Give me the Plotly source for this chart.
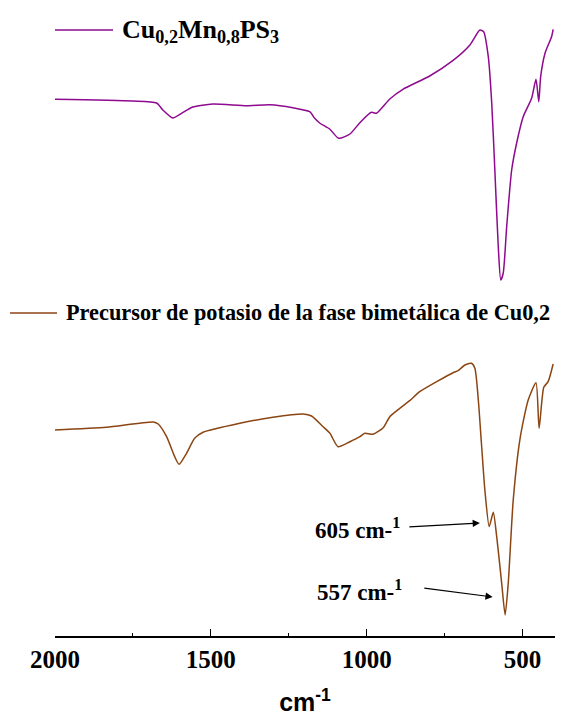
import plotly.graph_objects as go

# Wavenumbers (cm-1) and signal (a.u., offset)
wn_top = [2000, 1751, 1674, 1654, 1622, 1594, 1558, 1494, 1385, 1311, 1237, 1183, 1167, 1151,
          1119, 1090, 1054, 1022, 985, 969, 926, 884, 798, 724, 669, 637, 625, 610, 599, 589,
          578, 570, 562, 551, 535, 519, 498, 471, 457, 448, 442, 428, 407, 402]
t_top = [53.67, 53.5, 53.3, 52.6, 51.8, 52.27, 52.9, 53.2, 53.03, 53.13, 52.83, 52.43, 51.77, 51.3,
         50.7, 49.77, 50.2, 51.33, 52.37, 52.27, 53.7, 54.67, 56.0, 57.53, 59.1, 60.6, 60.43, 57.93,
         53.3, 46.6, 38.93, 35.6, 36.3, 40.93, 46.6, 49.3, 51.93, 53.77, 55.67, 53.43, 55.93, 58.27,
         59.93, 60.67]

wn_bot = [2000, 1835, 1685, 1669, 1642, 1616, 1602, 1578, 1552, 1525, 1407, 1301, 1204, 1177,
          1140, 1118, 1092, 1054, 1022, 1006, 980, 947, 926, 894, 862, 830, 723, 707, 685, 664,
          653, 642, 632, 621, 607, 594, 583, 567, 556, 546, 530, 508, 482, 457, 447, 432, 418, 402]
t_bot = [20.6, 20.87, 21.4, 21.2, 19.93, 17.93, 17.17, 18.27, 19.77, 20.37, 21.27, 21.87, 22.2, 22.0,
         20.93, 20.27, 18.93, 19.43, 19.93, 20.27, 20.17, 20.83, 21.93, 22.77, 23.53, 24.43, 26.33,
         26.53, 27.1, 27.27, 26.77, 23.6, 19.27, 14.6, 10.93, 12.37, 9.93, 5.27, 2.1, 5.27, 13.6,
         19.77, 23.6, 25.33, 20.77, 24.87, 25.43, 27.2]

name_top = "Cu<sub>0,2</sub>Mn<sub>0,8</sub>PS<sub>3</sub>"
name_bot = "Precursor de potasio de la fase bimetálica de Cu0,2"
tick_vals = [2000, 1500, 1000, 500]
tick_text = ["2000", "1500", "1000", "500"]

c_top = "#8E0A8E"
c_bot = "#8B4513"

fig = go.Figure()
fig.add_trace(go.Scatter(x=wn_top, y=t_top, mode="lines", name=name_top,
                         line=dict(color=c_top, width=1.5, shape="spline", smoothing=0.6),
                         showlegend=False))
fig.add_trace(go.Scatter(x=wn_bot, y=t_bot, mode="lines", name=name_bot,
                         line=dict(color=c_bot, width=1.5, shape="spline", smoothing=0.6),
                         showlegend=False))

serif = "Liberation Serif, Times New Roman, serif"

# legend-like entries
fig.add_shape(type="line", xref="paper", yref="paper", x0=0.0, x1=0.116, y0=0.9838, y1=0.9838,
              line=dict(color=c_top, width=1.5))
fig.add_annotation(xref="paper", yref="paper", x=0.13, y=0.982, xanchor="left", yanchor="middle",
                   text=name_top, showarrow=False,
                   font=dict(family=serif, size=26, color="black", weight="bold"))
fig.add_shape(type="line", xref="paper", yref="paper", x0=-0.09, x1=0.004, y0=0.5244, y1=0.5244,
              line=dict(color=c_bot, width=1.5))
fig.add_annotation(xref="paper", yref="paper", x=0.018, y=0.5244, xanchor="left", yanchor="middle",
                   text=name_bot, showarrow=False,
                   font=dict(family=serif, size=22.3, color="black", weight="bold"))

# peak labels with arrows
fig.add_annotation(x=1029, y=10.8, text="605 cm-<sup>1</sup>", showarrow=False,
                   font=dict(family=serif, size=23, color="black", weight="bold"))
fig.add_annotation(x=637, y=11.3, ax=868, ay=10.9, axref="x", ayref="y", text="",
                   showarrow=True, arrowhead=2, arrowsize=1.2, arrowwidth=1.2, arrowcolor="black")
fig.add_annotation(x=1022, y=4.6, text="557 cm-<sup>1</sup>", showarrow=False,
                   font=dict(family=serif, size=23, color="black", weight="bold"))
fig.add_annotation(x=596, y=3.9, ax=820, ay=4.8, axref="x", ayref="y", text="",
                   showarrow=True, arrowhead=2, arrowsize=1.2, arrowwidth=1.2, arrowcolor="black")

fig.update_xaxes(range=[2000, 396], showline=True, linecolor="black", linewidth=1.5,
                 ticks="inside", ticklen=7, tickwidth=1.2, tickcolor="black",
                 tickvals=tick_vals, ticktext=tick_text,
                 minor=dict(ticks="inside", ticklen=3, tickwidth=1, tickcolor="black",
                            tickvals=[1750, 1250, 750]),
                 showgrid=False, zeroline=False, automargin=False,
                 tickfont=dict(family=serif, size=25, color="black", weight="bold"),
                 title=dict(text="cm<sup>-1</sup>", standoff=22,
                            font=dict(family="Liberation Sans, Arial, sans-serif", size=25,
                                      color="black", weight="bold")))
fig.update_yaxes(range=[0, 61.6], visible=False)

fig.update_layout(width=563, height=719, margin=dict(l=47, r=16, t=12, b=91),
                  plot_bgcolor="white", paper_bgcolor="white")

fig.write_html("out.html")
